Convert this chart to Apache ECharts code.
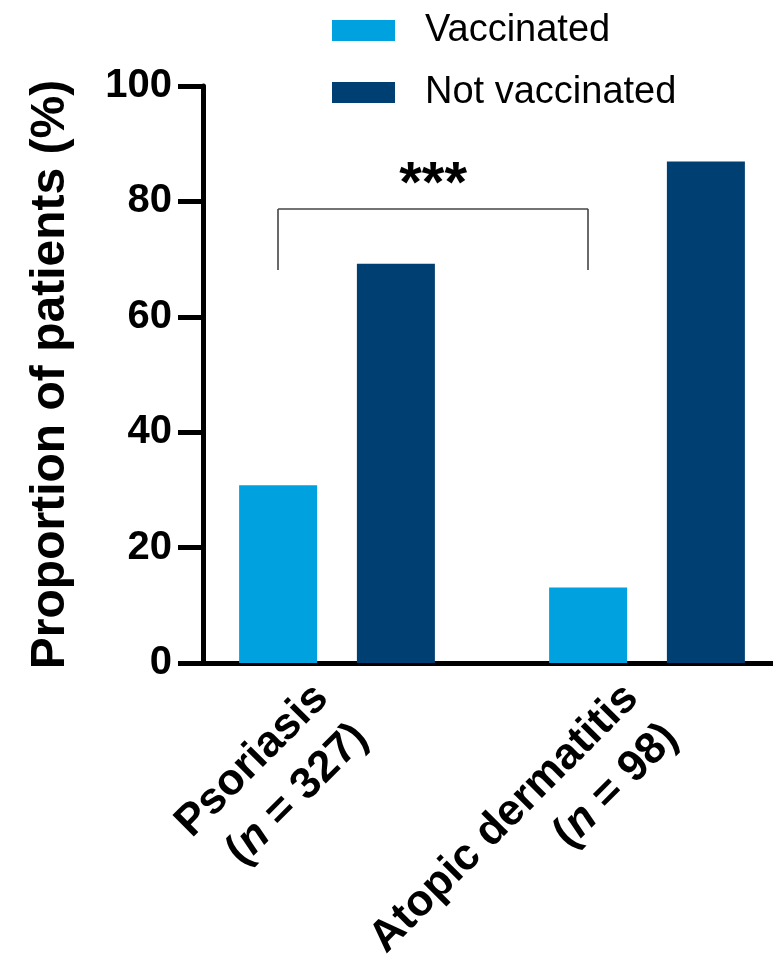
<!DOCTYPE html>
<html>
<head>
<meta charset="utf-8">
<script src="https://cdn.jsdelivr.net/npm/echarts@6/dist/echarts.min.js"></script>
<style>
html,body{margin:0;padding:0;background:#fff;}
#chart{width:773px;height:954px;}
</style>
</head>
<body>
<div id="chart"></div>
<script>
// Data
const categories = ['Psoriasis', 'Atopic dermatitis'];
const sampleSizes = ['327', '98'];
const vaccinated = [30.8, 13.1];
const notVaccinated = [69.2, 86.9];
const seriesNames = ['Vaccinated', 'Not vaccinated'];
const yTicks = [0, 20, 40, 60, 80, 100];
const bracketLow = 68.1;
const bracketHigh = 78.7;
const significance = '***';

const FONT = '"Liberation Sans", Arial, Helvetica, sans-serif';
const LIGHT = '#00A1DF';
const DARK = '#003F72';

const chart = echarts.init(document.getElementById('chart'));
chart.setOption({
  backgroundColor: '#fff',
  animation: false,
  textStyle: { fontFamily: FONT },
  legend: {
    orient: 'vertical',
    left: 327,
    top: 5.5,
    itemWidth: 63,
    itemHeight: 21,
    itemGap: 22,
    icon: 'rect',
    data: seriesNames,
    textStyle: {
      fontFamily: FONT,
      fontSize: 38,
      color: '#000',
      lineHeight: 40,
      padding: [0, 0, 0, 25]
    }
  },
  grid: {
    left: 182,
    right: -29,
    top: 86,
    bottom: 291,
    containLabel: false,
    outerBoundsMode: 'none'
  },
  xAxis: {
    type: 'category',
    data: categories,
    axisLine: { show: true, lineStyle: { color: '#000', width: 5 } },
    axisTick: { show: false },
    axisLabel: {
      interval: 0,
      rotate: 45,
      margin: 44,
      fontFamily: FONT,
      fontSize: 44,
      fontWeight: 'bold',
      color: '#000',
      lineHeight: 56,
      padding: [12, 0, 0, 0],
      formatter: function (v, i) {
        return v + '\n({i|n} = ' + sampleSizes[i] + ')';
      },
      rich: {
        i: { fontFamily: FONT, fontSize: 44, fontWeight: 'bold', fontStyle: 'italic', color: '#000', lineHeight: 56 }
      }
    }
  },
  yAxis: {
    type: 'value',
    min: yTicks[0],
    max: yTicks[yTicks.length - 1],
    interval: 20,
    offset: -21,
    name: 'Proportion of patients (%)',
    nameLocation: 'middle',
    nameRotate: 90,
    nameGap: 128,
    nameTextStyle: { fontFamily: FONT, fontSize: 48, fontWeight: 'bold', color: '#000' },
    axisLine: { show: true, lineStyle: { color: '#000', width: 5 } },
    axisTick: { show: true, length: 25, lineStyle: { color: '#000', width: 5 } },
    axisLabel: { margin: 31, fontFamily: FONT, fontSize: 40, fontWeight: 'bold', color: '#000' },
    splitLine: { show: false }
  },
  series: [
    {
      name: seriesNames[0],
      type: 'bar',
      data: vaccinated,
      barWidth: 78,
      barGap: '51%',
      itemStyle: { color: LIGHT },
      markLine: {
        silent: true,
        symbol: ['none', 'none'],
        lineStyle: { color: '#444', width: 1.6, type: 'solid' },
        label: { show: false },
        data: [
          [{ coord: [0, bracketLow] }, { coord: [0, bracketHigh] }],
          [
            { coord: [0, bracketHigh], label: { show: true, position: 'middle', formatter: significance, fontFamily: FONT, fontSize: 58, fontWeight: 'bold', color: '#000', distance: -6 } },
            { coord: [1, bracketHigh] }
          ],
          [{ coord: [1, bracketHigh] }, { coord: [1, bracketLow] }]
        ]
      }
    },
    {
      name: seriesNames[1],
      type: 'bar',
      data: notVaccinated,
      barWidth: 78,
      barGap: '51%',
      itemStyle: { color: DARK }
    }
  ]
});
</script>
</body>
</html>
